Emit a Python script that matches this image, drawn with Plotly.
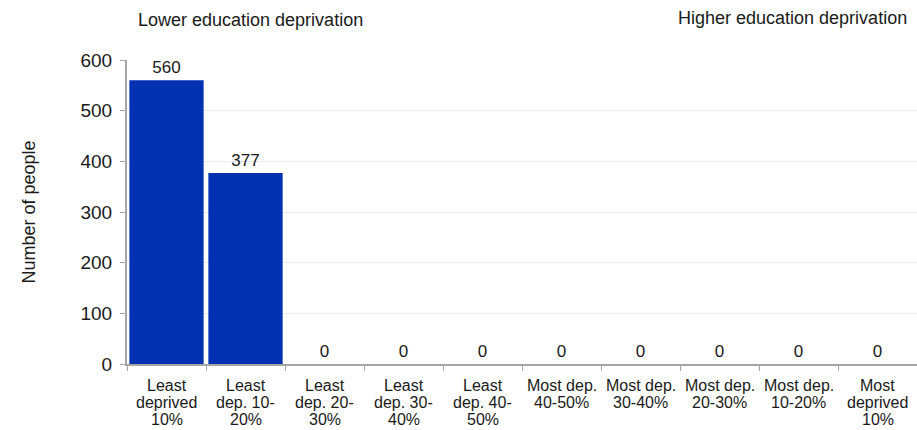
import plotly.graph_objects as go

categories = ["Least<br>deprived<br>10%", "Least<br>dep. 10-<br>20%", "Least<br>dep. 20-<br>30%",
              "Least<br>dep. 30-<br>40%", "Least<br>dep. 40-<br>50%", "Most dep.<br>40-50%",
              "Most dep.<br>30-40%", "Most dep.<br>20-30%", "Most dep.<br>10-20%", "Most<br>deprived<br>10%"]
values = [560, 377, 0, 0, 0, 0, 0, 0, 0, 0]
y_ticks = [0, 100, 200, 300, 400, 500, 600]
y_title = "Number of people"
left_label = "Lower education deprivation"
right_label = "Higher education deprivation"

FONT = "Liberation Sans, Arial, sans-serif"
TXT = "#1a1a1a"
GREY = "#a6a6a6"

fig = go.Figure(go.Bar(
    x=categories, y=values,
    marker=dict(color="#0331B1", line=dict(width=0)),
    text=[str(v) for v in values], textposition="outside",
    textfont=dict(family=FONT, size=17, color=TXT),
    cliponaxis=False,
))

# category labels drawn line by line (tight line spacing)
annotations = []
for cat in categories:
    for j, line in enumerate(cat.split("<br>")):
        annotations.append(dict(
            text=line, x=cat, xref="x", y=0, yref="paper",
            yshift=-21 - 17 * j, xanchor="center", yanchor="middle", showarrow=False,
            font=dict(family=FONT, size=16, color=TXT),
        ))

annotations += [
    dict(text=left_label, xref="paper", yref="paper", x=0.012, y=1.0,
         yshift=40, xanchor="left", yanchor="middle", showarrow=False,
         font=dict(family=FONT, size=18, color=TXT)),
    dict(text=right_label, xref="paper", yref="paper", x=0.99, y=1.0,
         yshift=42, xanchor="right", yanchor="middle", showarrow=False,
         font=dict(family=FONT, size=18, color=TXT)),
]

fig.update_layout(
    width=917, height=430,
    margin=dict(l=127, r=0, t=60, b=66, autoexpand=False),
    paper_bgcolor="white", plot_bgcolor="white",
    bargap=0.06,
    showlegend=False,
    font=dict(family=FONT, color=TXT),
    xaxis=dict(
        type="category", tickson="boundaries", ticks="outside", ticklen=5,
        tickcolor=GREY, showline=True, linecolor=GREY, linewidth=2,
        showticklabels=False, showgrid=False,
    ),
    yaxis=dict(
        range=[0, 600], tickvals=y_ticks, ticks="outside", ticklen=5,
        tickcolor=GREY, showline=True, linecolor=GREY, linewidth=2,
        gridcolor="#ececec", gridwidth=1, zeroline=False,
        tickfont=dict(family=FONT, size=19, color=TXT), ticklabelstandoff=4,
        title=dict(text=y_title, font=dict(family=FONT, size=18, color=TXT), standoff=40),
    ),
    annotations=annotations,
)

fig.write_html("out.html", config={"displayModeBar": False},
               post_script="document.body.style.margin='0';")
